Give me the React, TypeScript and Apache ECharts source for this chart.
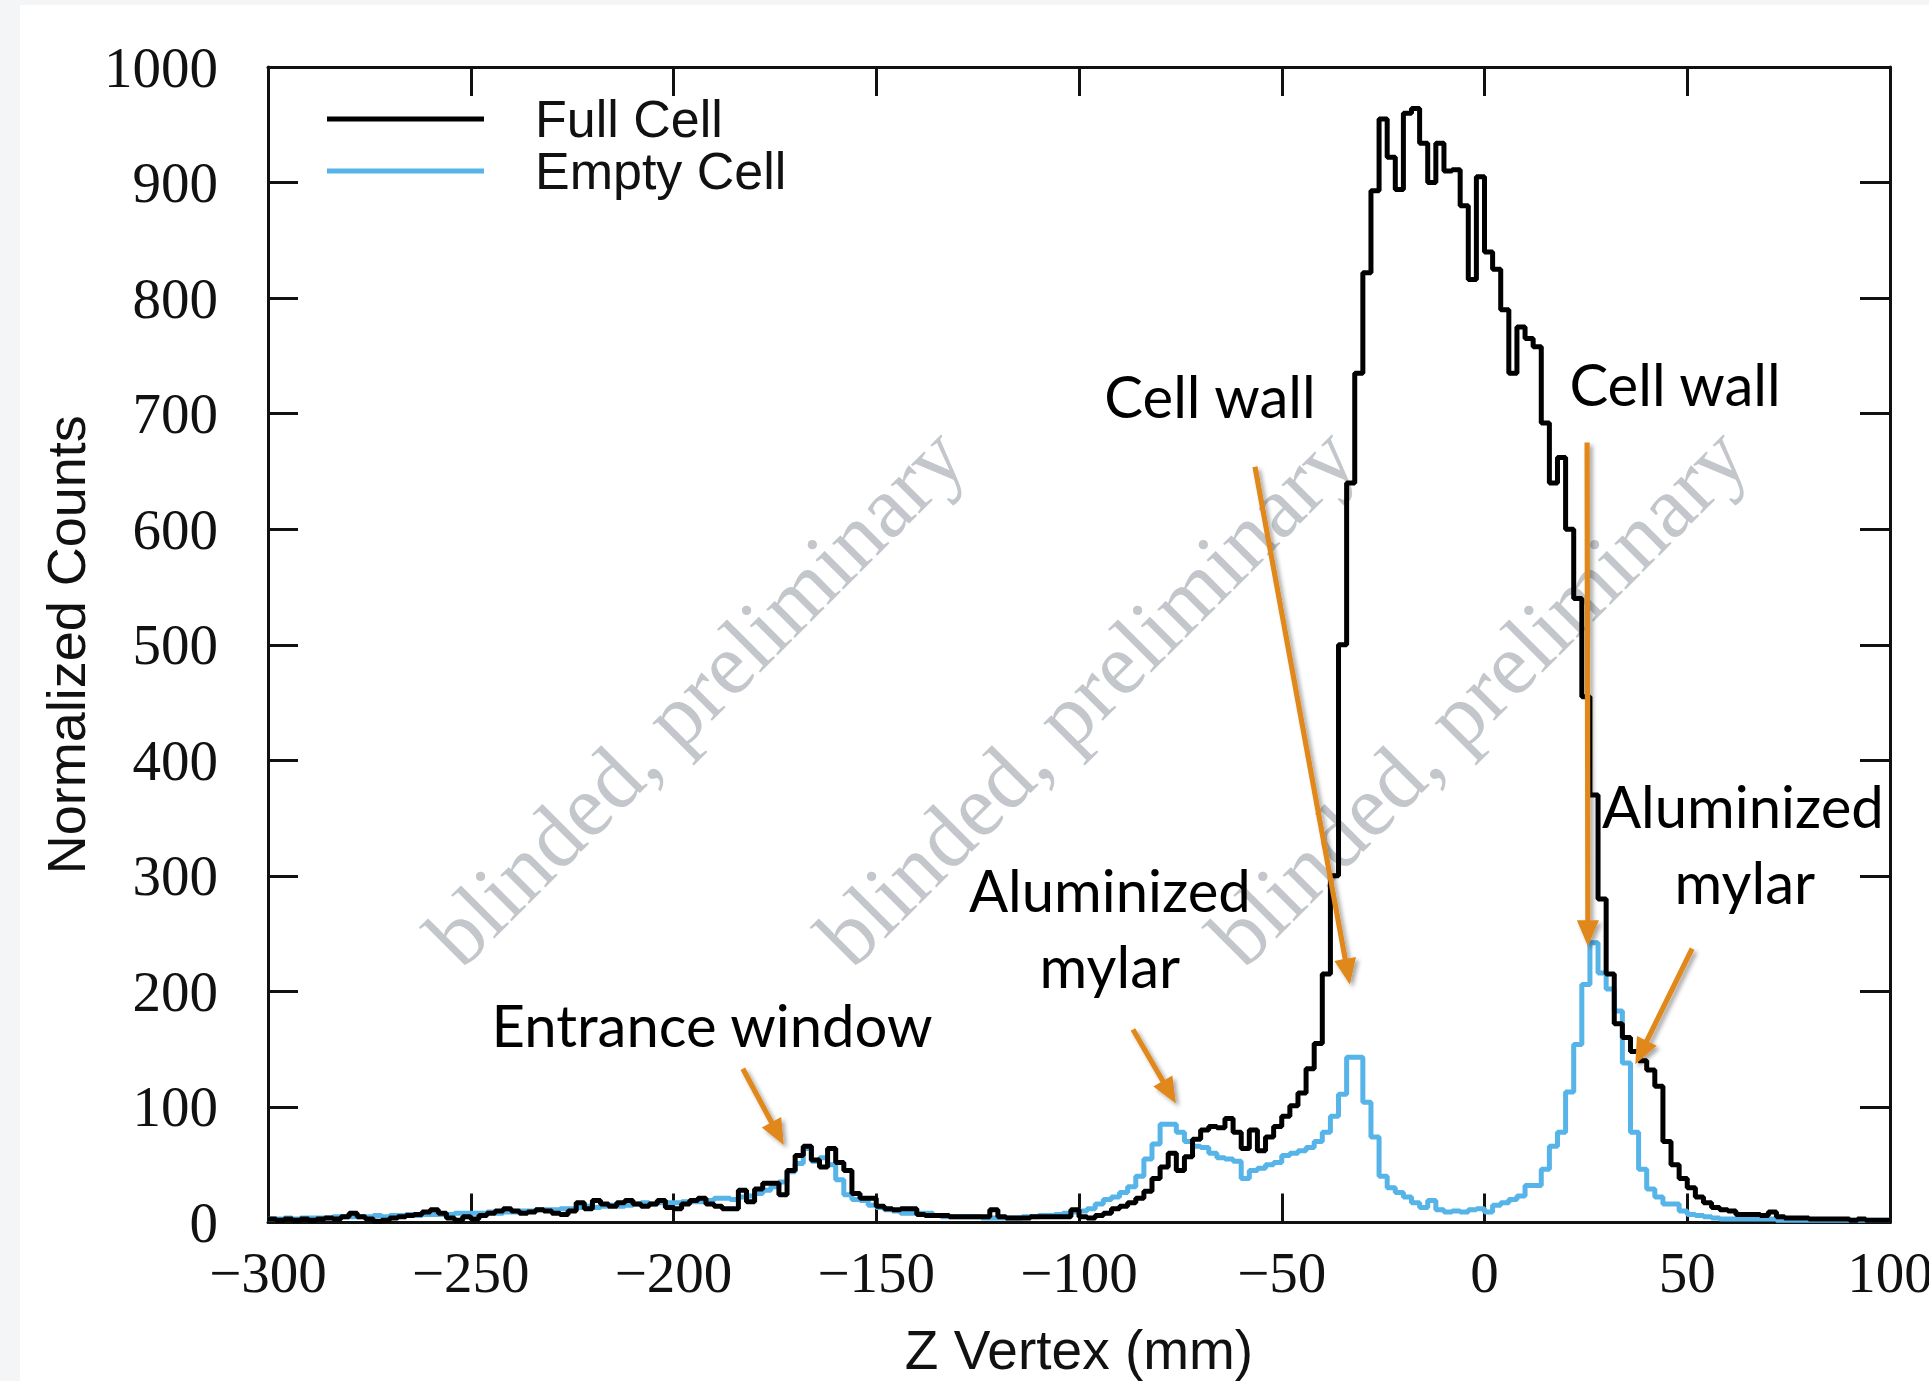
import React, { useEffect, useRef } from "react";
import * as echarts from "echarts";

// ---- Histogram binning (2 mm bins from -300 mm to +100 mm) ----
const BIN_START = -300;
const BIN_WIDTH = 2;

// Full Cell counts, one value per 2 mm bin (10 bins per row)
const fullCell = [
  3, 2, 3, 2, 3, 2, 3, 4, 3, 5, // -300..-280
  8, 5, 3, 1, 2, 4, 5, 6, 7, 9, // -280..-260
  11, 8, 4, 2, 5, 3, 6, 8, 10, 12, // -260..-240
  10, 8, 9, 11, 10, 8, 7, 10, 17, 12, // -240..-220
  19, 16, 14, 17, 19, 16, 14, 16, 19, 13, // -220..-200
  12, 16, 19, 21, 16, 14, 12, 12, 28, 18, // -200..-180
  29, 34, 34, 24, 45, 58, 66, 54, 48, 64, // -180..-160
  52, 45, 25, 21, 21, 14, 12, 11, 12, 12, // -160..-140
  7, 6, 6, 6, 5, 5, 5, 5, 5, 11, // -140..-120
  5, 4, 4, 4, 5, 5, 5, 5, 5, 11, // -120..-100
  5, 4, 6, 8, 12, 14, 17, 21, 27, 38, // -100..-80
  48, 60, 45, 57, 72, 80, 83, 82, 90, 78, // -80..-60
  64, 80, 62, 74, 83, 92, 101, 112, 133, 155, // -60..-40
  215, 300, 500, 640, 735, 822, 893, 955, 922, 894, // -40..-20
  960, 964, 934, 900, 934, 910, 911, 880, 816, 905, // -20..0
  840, 825, 790, 735, 775, 765, 758, 692, 640, 662, // 0..20
  600, 540, 455, 370, 280, 215, 172, 160, 148, 140, // 20..40
  132, 118, 70, 50, 38, 30, 22, 17, 13, 11, // 40..60
  10, 7, 7, 7, 6, 9, 5, 4, 4, 4, // 60..80
  3, 3, 3, 3, 3, 2, 3, 2, 2, 2, // 80..100
];

// Empty Cell counts, one value per 2 mm bin (10 bins per row)
const emptyCell = [
  3, 3, 4, 3, 4, 4, 4, 4, 5, 5, // -300..-280
  5, 5, 5, 6, 5, 6, 6, 7, 6, 7, // -280..-260
  7, 7, 7, 8, 8, 8, 8, 9, 8, 9, // -260..-240
  9, 10, 10, 11, 11, 11, 12, 12, 13, 14, // -240..-220
  13, 14, 15, 14, 15, 16, 17, 16, 17, 17, // -220..-200
  17, 18, 18, 18, 19, 21, 21, 20, 22, 23, // -200..-180
  25, 28, 31, 35, 44, 51, 64, 53, 56, 50, // -180..-160
  37, 24, 20, 19, 15, 13, 11, 10, 8, 8, // -160..-140
  8, 8, 6, 5, 5, 5, 5, 5, 4, 4, // -140..-120
  4, 4, 4, 5, 5, 6, 6, 7, 8, 9, // -120..-100
  10, 12, 16, 20, 22, 26, 31, 40, 55, 68, // -100..-80
  85, 85, 78, 70, 66, 65, 60, 56, 55, 53, // -80..-60
  38, 45, 47, 50, 52, 58, 60, 62, 65, 70, // -60..-40
  78, 92, 111, 143, 143, 104, 74, 40, 30, 26, // -40..-20
  22, 17, 13, 19, 11, 9, 10, 9, 11, 12, // -20..0
  9, 15, 17, 20, 23, 32, 32, 46, 66, 78, // 0..20
  113, 154, 206, 242, 216, 202, 183, 138, 78, 46, // 20..40
  29, 22, 16, 16, 10, 7, 6, 5, 4, 3, // 40..60
  3, 3, 3, 3, 3, 3, 2, 2, 2, 2, // 60..80
  2, 2, 2, 2, 2, 2, 2, 2, 2, 2, // 80..100
];

const seriesNames = ["Full Cell", "Empty Cell"];

// Text annotations, anchored in data coordinates [mm, counts]
const annotationTexts = [
  { text: "Cell wall", at: [-67.7, 716] },
  { text: "Cell wall", at: [47.0, 726] },
  { text: "Aluminized", at: [63.7, 361] },
  { text: "mylar", at: [64.2, 295.5] },
  { text: "Aluminized", at: [-92.4, 288] },
  { text: "mylar", at: [-92.4, 222] },
  { text: "Entrance window", at: [-190.5, 171] },
];

// Orange arrows [from, to] in data coordinates
const arrows = [
  { from: [-56.6, 654], to: [-33.2, 206] },
  { from: [25.3, 675], to: [25.5, 239] },
  { from: [51.2, 237], to: [37.2, 137] },
  { from: [-86.7, 167], to: [-76.1, 103] },
  { from: [-182.9, 133], to: [-172.8, 67] },
];

const watermarkText = "blinded, preliminary";
const watermarkAt = [
  [-194.7, 455.6],
  [-98.3, 455.6],
  [-1.8, 455.6],
];

function toSteps(values: number[]) {
  const pts = values.map((v, i) => [BIN_START + i * BIN_WIDTH, v]);
  pts.push([BIN_START + values.length * BIN_WIDTH, values[values.length - 1]]);
  return pts;
}

const fmtX = (v: number) => (v < 0 ? "\u2212" + Math.abs(v) : String(v));
const fmtY = (v: number) => String(v);

export default function App() {
  const ref = useRef<HTMLDivElement>(null);

  useEffect(() => {
    document.body.style.margin = "0";
    if (!ref.current) return;
    const chart = echarts.init(ref.current, undefined, { renderer: "svg" });

    const tickFont = {
      fontFamily: "'Liberation Serif', serif",
      fontSize: 57,
      color: "#111",
    };
    const axisLine = { show: true, onZero: false, lineStyle: { color: "#111", width: 3 } };

    const baseX = {
      type: "value" as const,
      min: -300,
      max: 100,
      interval: 50,
      splitLine: { show: false },
      axisLine,
      axisTick: { show: true, inside: true, length: 29, lineStyle: { color: "#111", width: 3 } },
    };
    const baseY = {
      type: "value" as const,
      min: 0,
      max: 1000,
      interval: 100,
      splitLine: { show: false },
      axisLine,
      axisTick: { show: true, inside: true, length: 30, lineStyle: { color: "#111", width: 3 } },
    };

    chart.setOption({
      animation: false,
      backgroundColor: "#f4f5f7",
      grid: {
        left: 268,
        right: 39,
        top: 67,
        bottom: 158.5,
        containLabel: false,
        outerBoundsMode: "none",
      },
      legend: {
        data: seriesNames,
        orient: "vertical",
        left: 327,
        top: 93,
        padding: 0,
        itemWidth: 157,
        itemHeight: 5,
        itemGap: 0,
        icon: "rect",
        textStyle: {
          fontFamily: "'Liberation Sans', sans-serif",
          fontSize: 52,
          color: "#111",
          lineHeight: 52,
          padding: [0, 0, 0, 46],
        },
      },
      xAxis: [
        {
          ...baseX,
          position: "bottom",
          axisLabel: { ...tickFont, margin: 21, formatter: fmtX },
          name: "Z Vertex (mm)",
          nameLocation: "middle",
          nameGap: 100,
          nameTextStyle: {
            fontFamily: "'Liberation Sans', sans-serif",
            fontSize: 55,
            color: "#111",
          },
        },
        { ...baseX, position: "top", axisLabel: { show: false } },
      ],
      yAxis: [
        {
          ...baseY,
          position: "left",
          axisLabel: { ...tickFont, margin: 50, formatter: fmtY },
          name: "Normalized Counts",
          nameLocation: "middle",
          nameGap: 167,
          nameTextStyle: {
            fontFamily: "'Liberation Sans', sans-serif",
            fontSize: 54,
            color: "#111",
          },
        },
        { ...baseY, position: "right", axisLabel: { show: false } },
      ],
      series: [
        {
          name: "Empty Cell",
          type: "line",
          xAxisIndex: 0,
          yAxisIndex: 0,
          step: "end",
          symbol: "none",
          color: "#56B4E9",
          lineStyle: { color: "#56B4E9", width: 5 },
          data: toSteps(emptyCell),
          z: 3,
        },
        {
          name: "Full Cell",
          type: "line",
          xAxisIndex: 0,
          yAxisIndex: 0,
          step: "end",
          symbol: "none",
          color: "#000000",
          lineStyle: { color: "#000000", width: 5 },
          data: toSteps(fullCell),
          z: 4,
        },
      ],
    });

    const px = (p: number[]) =>
      chart.convertToPixel({ xAxisIndex: 0, yAxisIndex: 0 }, p) as number[];

    const shadow = {
      shadowBlur: 4,
      shadowOffsetX: 3,
      shadowOffsetY: 3,
      shadowColor: "rgba(0,0,0,0.35)",
    };
    const orange = "#E0881A";
    const graphics: any[] = [
      {
        type: "rect",
        z: -10,
        silent: true,
        shape: { x: 20, y: 5, width: 1929 - 20, height: 1381 - 5 },
        style: { fill: "#ffffff" },
      },
    ];

    watermarkAt.forEach((p) => {
      const [x, y] = px(p);
      graphics.push({
        type: "text",
        z: 1,
        silent: true,
        x,
        y,
        rotation: Math.PI / 4,
        style: {
          text: watermarkText,
          fontFamily: "'Liberation Serif', serif",
          fontSize: 88,
          fill: "#c3c7cb",
          align: "center",
          verticalAlign: "middle",
          textAlign: "center",
          textVerticalAlign: "middle",
        },
      });
    });

    // each arrow is one polygon: shaft + triangular head
    arrows.forEach((a) => {
      const [x1, y1] = px(a.from);
      const [x2, y2] = px(a.to);
      const dx = x2 - x1;
      const dy = y2 - y1;
      const len = Math.hypot(dx, dy);
      const ux = dx / len;
      const uy = dy / len;
      const nx = -uy;
      const ny = ux;
      const headLen = 26;
      const headHalf = 11;
      const shaftHalf = 2.6;
      const bx = x2 - ux * headLen;
      const by = y2 - uy * headLen;
      graphics.push({
        type: "polygon",
        z: 10,
        silent: true,
        shape: {
          points: [
            [x1 + nx * shaftHalf, y1 + ny * shaftHalf],
            [bx + nx * shaftHalf, by + ny * shaftHalf],
            [bx + nx * headHalf, by + ny * headHalf],
            [x2, y2],
            [bx - nx * headHalf, by - ny * headHalf],
            [bx - nx * shaftHalf, by - ny * shaftHalf],
            [x1 - nx * shaftHalf, y1 - ny * shaftHalf],
          ],
        },
        style: { fill: orange, ...shadow },
      });
    });

    annotationTexts.forEach((t) => {
      const [x, y] = px(t.at);
      graphics.push({
        type: "text",
        z: 11,
        silent: true,
        x,
        y,
        style: {
          text: t.text,
          fontFamily: "Lato, sans-serif",
          fontSize: 58,
          fill: "#000000",
          align: "center",
          verticalAlign: "middle",
          textAlign: "center",
          textVerticalAlign: "middle",
        },
      });
    });

    chart.setOption({ graphic: graphics });

    return () => {
      chart.dispose();
    };
  }, []);

  return <div ref={ref} style={{ width: 1929, height: 1381 }} />;
}
